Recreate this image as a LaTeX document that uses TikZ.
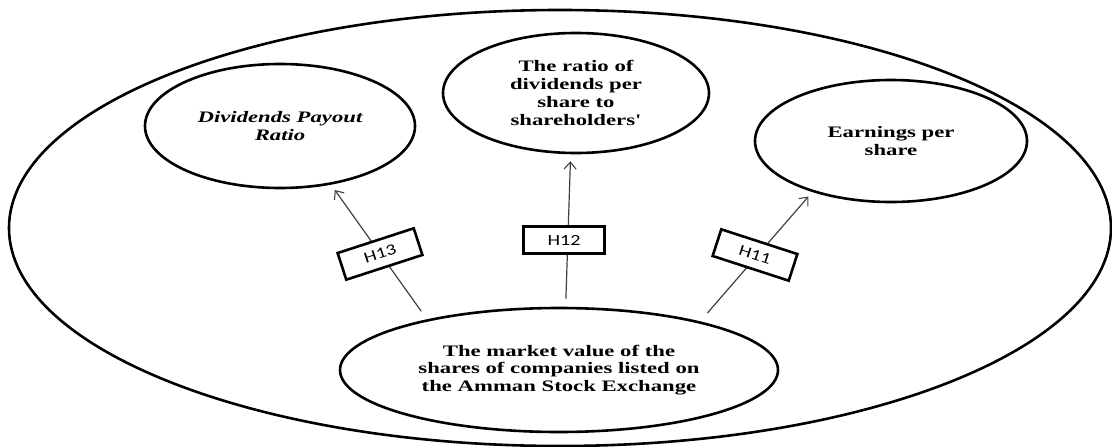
\documentclass[tikz,border=0pt]{standalone}
\usepackage{fontspec}
\usetikzlibrary{shapes.geometric,arrows.meta}
\newfontfamily\diagserif[FakeStretch=1.42]{Liberation Serif}
\newfontfamily\diagsans[FakeStretch=1.3]{Carlito}
\begin{document}
\begin{tikzpicture}[x=1pt,y=-1pt,
  outerell/.style={draw,line width=2.6pt,ellipse,inner sep=0pt},
  inell/.style={draw,line width=2.6pt,ellipse,inner sep=0pt,align=center,
    font=\diagserif\bfseries\fontsize{16}{17.8}\selectfont},
  hypbox/.style={draw,line width=2.6pt,fill=white,inner sep=0pt,
    minimum width=80pt,minimum height=28pt,font=\diagsans\fontsize{15.5}{18}\selectfont},
  arr/.style={draw=black!75,line width=1.2pt,-{Straight Barb[length=7pt,width=12pt,line width=1.1pt]}}]
\useasboundingbox (0,0) rectangle (1112,447);
\node[outerell,minimum width=1102pt,minimum height=436pt] (outer) at (560,228) {};
\node[inell,minimum width=270pt,minimum height=124pt] (dpr) at (280,126)
  {\itshape Dividends Payout\\ \itshape Ratio};
\node[inell,minimum width=266pt,minimum height=120pt] (rat) at (576,93)
  {The ratio of\\dividends per\\share to\\shareholders'};
\node[inell,minimum width=272pt,minimum height=122pt] (eps) at (891,141)
  {Earnings per\\share};
\node[inell,minimum width=438pt,minimum height=124pt] (mv) at (559,370)
  {The market value of the\\shares of companies listed on\\the Amman Stock Exchange};
\draw[arr,shorten <=10pt,shorten >=6.5pt] (mv.159.9) -- (dpr.-49.5);
\draw[arr,shorten <=8pt,shorten >=7pt] (mv.84.5) -- (rat.-95.7);
\draw[arr,shorten <=11pt,shorten >=6pt] (mv.19.6) -- (eps.-147.9);
\node[hypbox,rotate=18] (h13) at (380,254) {H13};
\node[hypbox,minimum width=81pt,minimum height=27pt] (h12) at (564,240) {H12};
\node[hypbox,rotate=-18] (h11) at (755,255) {H11};
\end{tikzpicture}
\end{document}
